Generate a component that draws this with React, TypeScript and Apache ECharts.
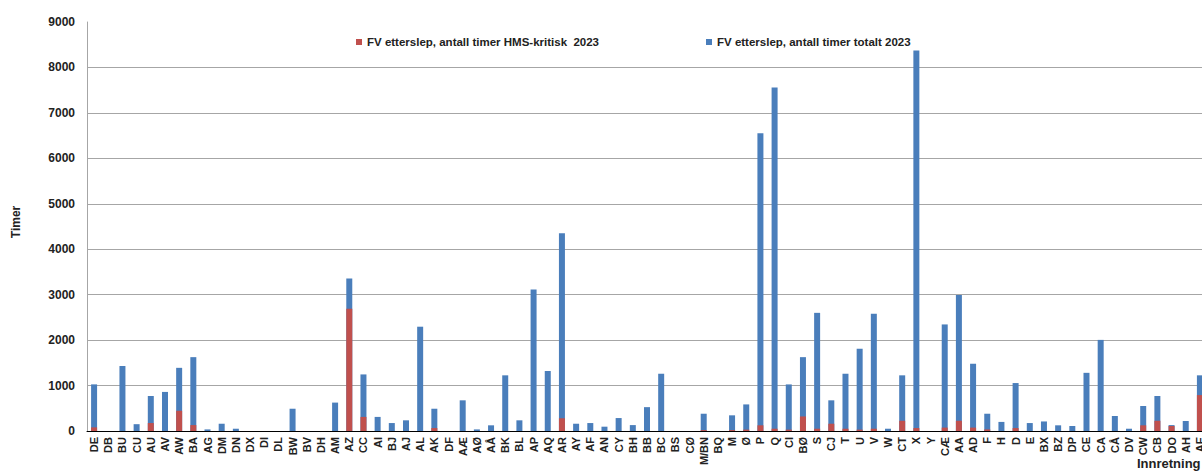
import React, { useEffect, useRef } from "react";
import * as echarts from "echarts";

const categories = [
  "DE", "DB", "BU", "CU", "AU", "AV", "AW", "BA", "AG", "DM", "DN", "DX", "DI", "DL", "BW", "BV", "DH", "AM", "AZ", "CC",
  "AI", "BJ", "AJ", "AL", "AK", "DF", "AÆ", "AØ", "AÅ", "BK", "BL", "AP", "AQ", "AR", "AY", "AF", "AN", "CY", "BH", "BB",
  "BC", "BS", "CØ", "M/BN", "BQ", "M", "Ø", "P", "Q", "CI", "BØ", "S", "CJ", "T", "U", "V", "W", "CT", "X", "Y",
  "CÆ", "AA", "AD", "F", "H", "D", "E", "BX", "BZ", "DP", "CE", "CA", "CÅ", "DV", "CW", "CB", "DO", "AH", "AE",
];

const totalValues = [
  1026, 0, 1430, 150, 770, 860, 1390, 1625, 35, 160, 50, 0, 0, 0, 490, 0, 0, 625, 3355, 1245,
  310, 175, 235, 2295, 490, 0, 675, 35, 125, 1225, 235, 3115, 1320, 4350, 160, 175, 95, 285, 130, 525,
  1260, 0, 0, 380, 0, 345, 585, 6550, 7560, 1025, 1625, 2600, 675, 1260, 1810, 2580, 50, 1225, 8375, 0,
  2345, 2995, 1480, 380, 200, 1055, 175, 210, 125, 110, 1280, 2005, 330, 50, 550, 770, 130, 220, 1225,
];

const hmsValues = [
  80, 0, 0, 0, 175, 0, 445, 130, 0, 0, 0, 0, 0, 0, 0, 0, 0, 0, 2690, 310,
  0, 0, 0, 0, 65, 0, 0, 0, 0, 0, 0, 0, 0, 280, 0, 0, 0, 0, 0, 0,
  0, 0, 0, 20, 0, 20, 30, 125, 50, 30, 320, 50, 160, 50, 30, 50, 0, 225, 65, 0,
  75, 225, 75, 35, 0, 65, 0, 0, 0, 0, 0, 0, 0, 0, 125, 225, 110, 0, 790,
];

const yTicks = [0, 1000, 2000, 3000, 4000, 5000, 6000, 7000, 8000, 9000];

const hmsName = "FV etterslep, antall timer HMS-kritisk  2023";
const totalName = "FV etterslep, antall timer totalt 2023";

const FONT = "'Liberation Sans', Arial, sans-serif";

export default function App() {
  const ref = useRef<HTMLDivElement>(null);
  useEffect(() => {
    if (!ref.current) return;
    const chart = echarts.init(ref.current, null, { renderer: "svg" });
    const splitColors = yTicks.map((t, i) => (i === yTicks.length - 1 ? "rgba(0,0,0,0)" : "#a6a6a6"));
    const legendText = { fontSize: 11.5, fontWeight: "bold", color: "#222", fontFamily: FONT };
    chart.setOption({
      animation: false,
      textStyle: { fontFamily: FONT },
      grid: { left: 87, top: 22, width: 1120, height: 409, containLabel: false },
      legend: [
        {
          left: 351,
          top: 31,
          itemWidth: 6,
          itemHeight: 6,
          icon: "rect",
          data: [hmsName],
          textStyle: legendText,
        },
        {
          left: 701,
          top: 31,
          itemWidth: 6,
          itemHeight: 6,
          icon: "rect",
          data: [totalName],
          textStyle: legendText,
        },
      ],
      xAxis: {
        type: "category",
        data: categories,
        axisLine: { lineStyle: { color: "#000", width: 1 } },
        axisTick: { show: false },
        axisLabel: {
          interval: 0,
          rotate: 90,
          margin: 6,
          fontSize: 11,
          fontWeight: "bold",
          color: "#222",
          fontFamily: FONT,
        },
      },
      yAxis: {
        type: "value",
        min: 0,
        max: 9000,
        interval: 1000,
        axisLine: { show: true, lineStyle: { color: "#a6a6a6" } },
        axisTick: { show: false },
        splitLine: { lineStyle: { color: splitColors, width: 1 } },
        axisLabel: {
          fontSize: 12,
          fontWeight: "bold",
          color: "#222",
          margin: 12,
          fontFamily: FONT,
          formatter: (v: number) => String(v),
        },
      },
      series: [
        {
          name: totalName,
          type: "bar",
          data: totalValues,
          barWidth: 6,
          barGap: "-100%",
          itemStyle: { color: "#4a7ebb" },
        },
        {
          name: hmsName,
          type: "bar",
          data: hmsValues,
          barWidth: 6,
          itemStyle: { color: "#c0504d" },
        },
      ],
      graphic: [
        {
          type: "text",
          x: 16,
          y: 222,
          rotation: Math.PI / 2,
          style: {
            text: "Timer",
            fontSize: 12,
            fontWeight: "bold",
            fill: "#222",
            fontFamily: FONT,
            align: "center",
            verticalAlign: "middle",
          },
        },
        {
          type: "text",
          x: 1137,
          y: 463,
          style: {
            text: "Innretning",
            fontSize: 13,
            fontWeight: "bold",
            fill: "#222",
            fontFamily: FONT,
            align: "left",
            verticalAlign: "middle",
          },
        },
      ],
    });
    return () => chart.dispose();
  }, []);
  return (
    <div
      ref={ref}
      style={{ position: "fixed", left: 0, top: 0, width: 1215, height: 471, background: "#fff" }}
    />
  );
}
